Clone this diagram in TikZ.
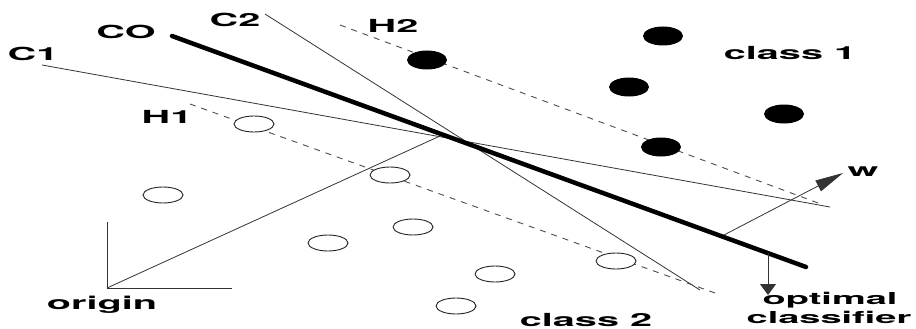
\documentclass[tikz,border=0pt]{standalone}
\usepackage{fontspec}
\setmainfont{TeX Gyre Heros}
\usetikzlibrary{shapes.geometric,arrows.meta}
\newcommand\wide[1]{\scalebox{2.2}[1]{#1}}
\newcommand\wider[1]{\scalebox{2.3}[1]{#1}}
\tikzset{
  lbl/.style={inner sep=0pt,font=\bfseries\fontsize{18}{14}\selectfont},
  slbl/.style={inner sep=0pt,font=\bfseries\fontsize{16.5}{13}\selectfont},
  fdot/.style={ellipse,fill=black,minimum width=40pt,minimum height=19pt,inner sep=0pt},
  odot/.style={ellipse,draw=black!85,line width=0.9pt,minimum width=40pt,minimum height=16pt,inner sep=0pt},
  thin line/.style={draw=black!80,line width=0.8pt},
  margin/.style={draw=black!70,line width=0.9pt,dash pattern=on 6pt off 6pt},
}
\begin{document}
\begin{tikzpicture}[x=1pt,y=-1pt]
\useasboundingbox (0,0) rectangle (916,329);
% coordinates
\coordinate (co1) at (172,36);
\coordinate (co2) at (806,267);
\coordinate (c1a) at (42,65);
\coordinate (c1b) at (830,207);
\coordinate (c2a) at (265,14);
\coordinate (c2b) at (700,290);
\coordinate (h2a) at (340,25);
\coordinate (h2b) at (818,203);
\coordinate (h1a) at (190,104);
\coordinate (h1b) at (715,293);
\coordinate (org) at (107,288);
\coordinate (ytop) at (107,222);
\coordinate (xend) at (232,288);
\coordinate (p) at (440,136);
\coordinate (ws) at (724,235);
\coordinate (wt) at (843,173);
\coordinate (os) at (768,253);
\coordinate (ot) at (768,295);
% lines
\draw[thin line] (c1a) -- (c1b);
\draw[thin line] (c2a) -- (c2b);
\draw[margin] (h2a) -- (h2b);
\draw[margin] (h1a) -- (h1b);
\draw[line width=4.5pt,line cap=round] (co1) -- (co2);
\draw[thin line] (ytop) -- (org) -- (xend);
\draw[thin line] (org) -- (p);
\draw[thin line,-{Triangle[length=28pt,width=12pt]}] (ws) -- (wt);
\draw[thin line,-{Triangle[length=11pt,width=16pt]}] (os) -- (ot);
% class 1
\node[fdot] (a1) at (427,60) {};
\node[fdot] (a2) at (663,36) {};
\node[fdot] (a3) at (629,87) {};
\node[fdot] (a4) at (784,114) {};
\node[fdot] (a5) at (661,147) {};
% class 2
\node[odot,fill=white] (b1) at (254,124) {};
\node[odot,fill=white] (b2) at (163,195) {};
\node[odot,fill=white] (b3) at (390,175) {};
\node[odot,fill=white] (b4) at (413,227) {};
\node[odot,fill=white] (b5) at (328,243) {};
\node[odot,fill=white] (b6) at (495,274) {};
\node[odot,fill=white] (b7) at (456,306) {};
\node[odot,fill=white] (b8) at (616,261) {};
% labels
\node[lbl] (lco) at (126,32) {\wide{CO}};
\node[lbl] (lc1) at (33,54) {\wide{C1}};
\node[lbl] (lc2) at (235,20) {\wide{C2}};
\node[lbl] (lh2) at (393,26) {\wide{H2}};
\node[lbl] (lh1) at (167,117) {\wide{H1}};
\node[lbl] (lorg) at (102,305) {\wide{origin}};
\node[lbl] (lcl1) at (790,53) {\wide{class 1}};
\node[lbl] (lcl2) at (586,320) {\wide{class 2}};
\node[lbl] (lw) at (863,172) {\wide{w}};
\node[slbl] (lopt) at (830,300) {\wider{optimal}};
\node[slbl] (lcls) at (829,317) {\wider{classifier}};
\end{tikzpicture}
\end{document}
